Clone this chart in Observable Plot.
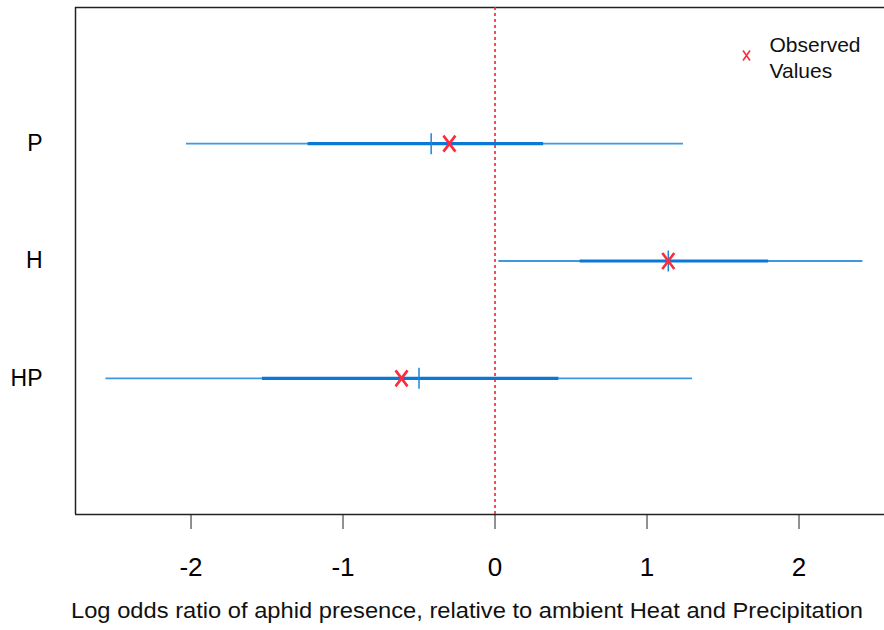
<!DOCTYPE html>
<html>
<head>
<meta charset="utf-8">
<script src="https://cdn.jsdelivr.net/npm/d3@7"></script>
<script src="https://cdn.jsdelivr.net/npm/@observablehq/plot@0.6"></script>
<style>
  html, body { margin: 0; padding: 0; background: #fff; overflow: hidden; }
  #chart svg { display: block; font-family: "Liberation Sans", Arial, sans-serif; }
</style>
</head>
<body>
<div id="chart"></div>
<script>
// Treatments, top to bottom
const categories = ["P", "H", "HP"];
// Posterior summaries of the log odds ratio for each treatment
const observed = [-0.30, 1.14, -0.615];
const median   = [-0.42, 1.14, -0.50];
const lower95  = [-2.03, 0.025, -2.56];
const upper95  = [1.24, 2.42, 1.30];
const lower50  = [-1.23, 0.56, -1.53];
const upper50  = [0.32, 1.80, 0.42];
const xTicks = [-2, -1, 0, 1, 2];
const xTitle = "Log odds ratio of aphid presence, relative to ambient Heat and Precipitation";
const legendText = "Observed\nValues";

// One row per treatment; the first category sits at the top
const rows = categories.map((name, i) => ({
  name,
  row: categories.length - i,
  observed: observed[i],
  median: median[i],
  lower95: lower95[i],
  upper95: upper95[i],
  lower50: lower50[i],
  upper50: upper50[i]
}));

const yPad = 0.16;
const yDomain = [0 - yPad, categories.length + 1 + yPad];
const xDomain = [-2.76, 2.5625];

const blue = "#1a86d9";
const red = "#ff2a3c";

// Marker shapes (pixel sized)
const crossBig = {draw(ctx) { ctx.moveTo(-6, -8); ctx.lineTo(6, 8); ctx.moveTo(6, -8); ctx.lineTo(-6, 8); }};
const crossSmall = {draw(ctx) { ctx.moveTo(-3.5, -5); ctx.lineTo(3.5, 5); ctx.moveTo(3.5, -5); ctx.lineTo(-3.5, 5); }};
const vTick = {draw(ctx) { ctx.moveTo(0, -10.5); ctx.lineTo(0, 10.5); }};

const chart = Plot.plot({
  width: 884,
  height: 630,
  marginLeft: 75,
  marginRight: 0,
  marginTop: 7,
  marginBottom: 116,
  style: {fontFamily: "'Liberation Sans', Arial, sans-serif", color: "#000", background: "#fff"},
  x: {domain: xDomain},
  y: {domain: yDomain},
  marks: [
    // plot box (open on the right)
    Plot.ruleY(yDomain, {stroke: "#222", strokeWidth: 1.5}),
    Plot.ruleX([xDomain[0]], {stroke: "#222", strokeWidth: 1.5}),
    // reference line at zero
    Plot.ruleX([0], {stroke: "#ff2020", strokeWidth: 1.6, strokeDasharray: "3,3"}),
    // 95% and 50% intervals
    Plot.ruleY(rows, {y: "row", x1: "lower95", x2: "upper95", stroke: blue, strokeWidth: 1.8, strokeOpacity: 0.85}),
    Plot.ruleY(rows, {y: "row", x1: "lower50", x2: "upper50", stroke: "#0a78d4", strokeWidth: 3.2}),
    // medians
    Plot.dot(rows, {x: "median", y: "row", symbol: vTick, r: 5, fill: "none", stroke: blue, strokeWidth: 1.5}),
    // observed values
    Plot.dot(rows, {x: "observed", y: "row", symbol: crossBig, r: 5, fill: "none", stroke: red, strokeWidth: 2.6}),
    // axes
    Plot.axisX({ticks: xTicks, tickFormat: d => String(d), tickSize: 15, tickPadding: 28, fontSize: 26, label: null, stroke: "#222"}),
    Plot.axisY({ticks: rows.map(d => d.row), tickFormat: v => categories[categories.length - v], tickSize: 0, tickPadding: 33, fontSize: 23, label: null}),
    Plot.text([xTitle], {frameAnchor: "bottom", dx: -13, dy: 96, fontSize: 22, lineAnchor: "middle", fill: "#111"}),
    // legend
    Plot.dot([0], {frameAnchor: "top-right", dx: -138, dy: 48, symbol: crossSmall, r: 4, fill: "none", stroke: red, strokeWidth: 1.6}),
    Plot.text([legendText], {frameAnchor: "top-right", dx: -115, dy: 49, textAnchor: "start", lineAnchor: "middle", lineHeight: 1.24, fontSize: 21, fill: "#111"})
  ]
});

document.getElementById("chart").appendChild(chart);

// fit the axis title to its width
d3.select(chart).selectAll("text").filter(function() { return this.textContent === xTitle; })
  .attr("textLength", 792).attr("lengthAdjust", "spacingAndGlyphs");
</script>
</body>
</html>
